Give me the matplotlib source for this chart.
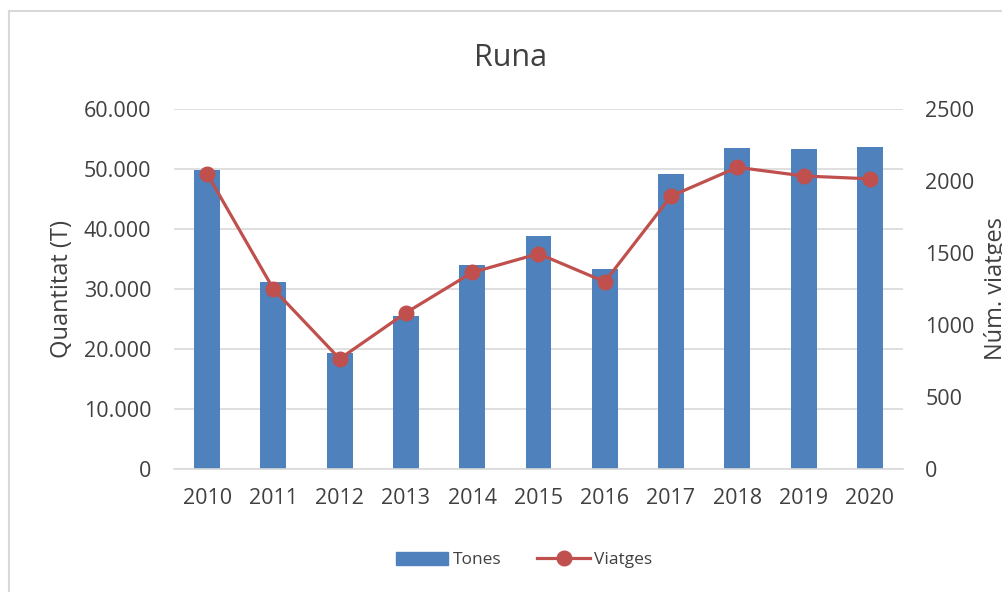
import matplotlib
matplotlib.use("Agg")
import matplotlib.pyplot as plt
from matplotlib.lines import Line2D
from matplotlib.ticker import FuncFormatter

anys = ["2010", "2011", "2012", "2013", "2014", "2015", "2016", "2017", "2018", "2019", "2020"]
tones = [49900, 31200, 19300, 25500, 33950, 38900, 33350, 49150, 53500, 53300, 53750]
viatges = [2050, 1250, 765, 1085, 1365, 1495, 1300, 1895, 2095, 2035, 2015]

blau = "#4f81bd"
vermell = "#c0504d"
gris = "#d9d9d9"
text = "#404040"

plt.rcParams['font.family'] = ['Open Sans', 'DejaVu Sans']

W, H = 1002, 592
fig = plt.figure(figsize=(W / 100, H / 100), dpi=100)

# area del grafic en pixels
x0, x1, y0, y1 = 174, 903, 109, 469
ax = fig.add_axes([x0 / W, 1 - y1 / H, (x1 - x0) / W, (y1 - y0) / H])
ax2 = ax.twinx()

x = list(range(len(anys)))
ax.bar(x, tones, width=0.39, color=blau, zorder=2)
ax2.plot(x, viatges, color=vermell, lw=2.3, marker="o", markersize=10.5, zorder=3)

ax.set_xlim(-0.5, len(anys) - 0.5)
ax.set_ylim(0, 60000)
ax2.set_ylim(0, 2500)
ax.set_yticks(range(0, 60001, 10000))
ax2.set_yticks(range(0, 2501, 500))
ax.yaxis.set_major_formatter(FuncFormatter(lambda v, p: f"{int(v):,}".replace(",", ".")))
ax.set_xticks(x)
ax.set_xticklabels(anys)

ax.grid(axis="y", color=gris, lw=1.2, zorder=0)
ax.set_axisbelow(True)
for a in (ax, ax2):
    for s in a.spines.values():
        s.set_visible(False)
ax.spines["bottom"].set_visible(True)
ax.spines["bottom"].set_color(gris)
ax.spines["bottom"].set_linewidth(1.2)

ax.tick_params(axis="y", length=0, pad=16.5, labelsize=15.5, labelcolor=text)
ax.tick_params(axis="x", length=0, pad=14, labelsize=15.5, labelcolor=text)
ax2.tick_params(axis="y", length=0, pad=16, labelsize=15.5, labelcolor=text)

fig.text(510.5 / W, 1 - 66 / H, "Runa", ha="center", va="baseline", fontsize=22, color=text)
fig.text(62 / W, 1 - 289 / H, "Quantitat (T)", rotation=90, ha="center", va="center",
         fontsize=17, color=text)
fig.text(996 / W, 1 - 289 / H, "Núm. viatges", rotation=90, ha="center", va="center",
         fontsize=17, color=text)

handles = [plt.Rectangle((0, 0), 1, 1, color=blau),
           Line2D([], [], color=vermell, lw=2.3, marker="o", markersize=10.5)]
fig.legend(handles, ["Tones", "Viatges"], loc="center", bbox_to_anchor=(524 / W, 1 - 560 / H),
           ncol=2, frameon=False, fontsize=12.5, handlelength=3.0, handleheight=0.75,
           handletextpad=0.25, columnspacing=2.1, labelcolor=text)

# vora del grafic
fig.add_artist(Line2D([8.5 / W, 8.5 / W], [0, 1 - 11 / H], color=gris, lw=1.5))
fig.add_artist(Line2D([8.5 / W, 1], [1 - 11 / H, 1 - 11 / H], color=gris, lw=1.5))

fig.savefig("out.png", dpi=100)
